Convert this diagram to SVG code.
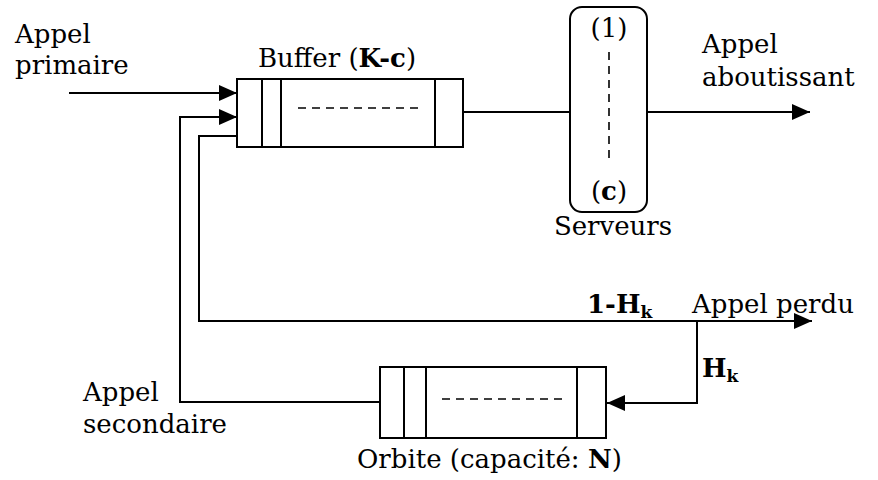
<svg xmlns="http://www.w3.org/2000/svg" width="878" height="480" viewBox="0 0 878 480">
<style>
.ln{fill:none;stroke:#000;stroke-width:2}
.box{fill:#fff;stroke:#000;stroke-width:2}
.dash{fill:none;stroke:#000;stroke-width:1.6;stroke-dasharray:8 6}
text{font-family:"DejaVu Serif","Liberation Serif",serif;font-size:26px;fill:#000}
.b{font-weight:bold}
.sub{font-size:17px;font-weight:bold}
</style>
<defs>
<marker id="ah" markerWidth="18" markerHeight="16" refX="18" refY="8" orient="auto" markerUnits="userSpaceOnUse">
<path d="M0,0 L18,8 L0,16 Z" fill="#000"/>
</marker>
</defs>
<rect width="878" height="480" fill="#fff"/>
<g id="connectors">
<path class="ln" d="M69,93 H237" marker-end="url(#ah)"/>
<path class="ln" d="M380,402 H180 V117 H237" marker-end="url(#ah)"/>
<path class="ln" d="M237,136 H199 V321 H812" marker-end="url(#ah)"/>
<path class="ln" d="M463,112 H570"/>
<path class="ln" d="M647,112 H810" marker-end="url(#ah)"/>
<path class="ln" d="M697,321 V403 H607" marker-end="url(#ah)"/>
</g>
<g id="buffer">
<rect class="box" x="237" y="79" width="226" height="68"/>
<path class="ln" d="M262,79 V147 M281,79 V147 M435,79 V147"/>
<path class="dash" d="M298,108 H420"/>
<text x="258" y="67">Buffer (<tspan class="b">K-c</tspan>)</text>
</g>
<g id="serveurs">
<rect class="box" x="570" y="7" width="77" height="205" rx="12"/>
<path class="dash" d="M609,52 V162"/>
<text x="609" y="37" text-anchor="middle">(1)</text>
<text x="609" y="200" text-anchor="middle">(<tspan class="b">c</tspan>)</text>
<text x="613" y="235" text-anchor="middle">Serveurs</text>
</g>
<g id="orbite">
<rect class="box" x="380" y="367" width="226" height="71"/>
<path class="ln" d="M404,367 V438 M426,367 V438 M577,367 V438"/>
<path class="dash" d="M442,399 H564"/>
<text x="357" y="468">Orbite (capacité: <tspan class="b">N</tspan>)</text>
</g>
<g id="labels">
<text x="15" y="43">Appel</text>
<text x="15" y="74">primaire</text>
<text x="702" y="53">Appel</text>
<text x="702" y="86">aboutissant</text>
<text x="83" y="401">Appel</text>
<text x="83" y="433">secondaire</text>
<text x="587" y="313" class="b">1-H<tspan class="sub" dy="5">k</tspan></text>
<text x="692" y="313">Appel perdu</text>
<text x="702" y="377" class="b">H<tspan class="sub" dy="5">k</tspan></text>
</g>
</svg>
